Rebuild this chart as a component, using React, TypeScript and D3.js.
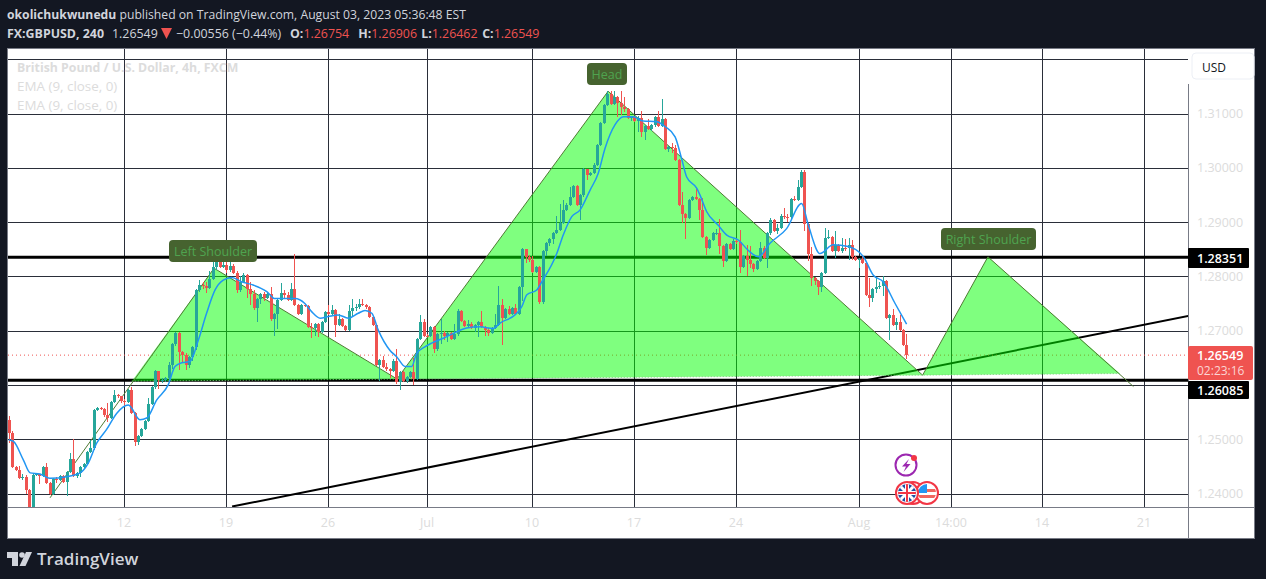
import React from "react";
import * as d3 from "d3";

const firstOpen = 1.2536;
const closes = [
1.2512,1.2449,1.2444,1.2429,1.2431,1.2406,1.2374,1.2434,1.2435,1.2432,
1.2449,1.2419,1.2399,1.2426,1.2425,1.2432,1.2422,1.2440,1.2464,1.2432,
1.2438,1.2448,1.2454,1.2477,1.2483,1.2554,1.2558,1.2556,1.2545,1.2540,
1.2568,1.2581,1.2579,1.2570,1.2568,1.2591,1.2549,1.2494,1.2506,1.2519,
1.2533,1.2565,1.2596,1.2625,1.2609,1.2609,1.2612,1.2637,1.2675,1.2696,
1.2661,1.2655,1.2637,1.2652,1.2669,1.2775,1.2784,1.2782,1.2778,1.2796,
1.2818,1.2827,1.2818,1.2821,1.2811,1.2819,1.2807,1.2774,1.2790,1.2802,
1.2776,1.2768,1.2741,1.2758,1.2767,1.2760,1.2767,1.2722,1.2731,1.2756,
1.2769,1.2766,1.2757,1.2776,1.2747,1.2730,1.2747,1.2746,1.2707,1.2704,
1.2712,1.2698,1.2716,1.2735,1.2731,1.2738,1.2710,1.2722,1.2708,1.2702,
1.2737,1.2741,1.2744,1.2750,1.2747,1.2743,1.2725,1.2710,1.2636,1.2646,
1.2633,1.2630,1.2625,1.2645,1.2605,1.2623,1.2608,1.2615,1.2623,1.2611,
1.2684,1.2716,1.2691,1.2690,1.2706,1.2667,1.2693,1.2696,1.2690,1.2696,
1.2685,1.2693,1.2736,1.2717,1.2708,1.2713,1.2705,1.2711,1.2715,1.2706,
1.2702,1.2696,1.2705,1.2710,1.2747,1.2724,1.2739,1.2730,1.2741,1.2731,
1.2780,1.2851,1.2835,1.2830,1.2808,1.2818,1.2752,1.2847,1.2861,1.2868,
1.2879,1.2886,1.2899,1.2923,1.2932,1.2947,1.2966,1.2931,1.2949,1.2997,
1.2986,1.2991,1.3006,1.3042,1.3083,1.3115,1.3136,1.3118,1.3131,1.3120,
1.3112,1.3108,1.3091,1.3094,1.3087,1.3092,1.3066,1.3077,1.3072,1.3078,
1.3093,1.3077,1.3089,1.3034,1.3038,1.3036,1.3015,1.2931,1.2915,1.2907,
1.2940,1.2946,1.2942,1.2923,1.2872,1.2852,1.2867,1.2879,1.2880,1.2856,
1.2829,1.2860,1.2850,1.2866,1.2864,1.2817,1.2838,1.2831,1.2823,1.2813,
1.2829,1.2852,1.2834,1.2879,1.2903,1.2884,1.2889,1.2912,1.2910,1.2909,
1.2942,1.2941,1.2964,1.2993,1.2897,1.2842,1.2797,1.2791,1.2780,1.2806,
1.2871,1.2872,1.2846,1.2858,1.2847,1.2853,1.2852,1.2858,1.2836,1.2831,
1.2832,1.2825,1.2765,1.2761,1.2777,1.2780,1.2782,1.2791,1.2723,1.2729,
1.2710,1.2715,1.2701,1.2674,1.26549];
const highs = [
1.2543,1.2516,1.2451,1.2450,1.2436,1.2434,1.2408,1.2436,1.2437,1.2436,
1.2450,1.2456,1.2421,1.2428,1.2431,1.2434,1.2434,1.2442,1.2474,1.2500,
1.2440,1.2450,1.2456,1.2479,1.2498,1.2556,1.2560,1.2560,1.2558,1.2566,
1.2570,1.2590,1.2583,1.2580,1.2574,1.2593,1.2597,1.2551,1.2508,1.2521,
1.2535,1.2575,1.2598,1.2627,1.2626,1.2613,1.2615,1.2642,1.2677,1.2698,
1.2697,1.2662,1.2658,1.2654,1.2671,1.2777,1.2793,1.2790,1.2790,1.2810,
1.2828,1.2848,1.2839,1.2842,1.2836,1.2832,1.2823,1.2809,1.2800,1.2806,
1.2804,1.2790,1.2775,1.2760,1.2769,1.2772,1.2772,1.2781,1.2733,1.2758,
1.2787,1.2775,1.2772,1.2787,1.2841,1.2749,1.2749,1.2750,1.2748,1.2714,
1.2714,1.2714,1.2718,1.2737,1.2747,1.2747,1.2740,1.2731,1.2724,1.2710,
1.2747,1.2759,1.2750,1.2759,1.2758,1.2750,1.2745,1.2727,1.2712,1.2648,
1.2654,1.2640,1.2632,1.2647,1.2667,1.2625,1.2625,1.2617,1.2625,1.2650,
1.2686,1.2728,1.2722,1.2693,1.2708,1.2708,1.2695,1.2722,1.2700,1.2698,
1.2698,1.2712,1.2739,1.2738,1.2719,1.2720,1.2715,1.2713,1.2717,1.2736,
1.2708,1.2704,1.2707,1.2730,1.2782,1.2759,1.2741,1.2745,1.2743,1.2750,
1.2782,1.2853,1.2851,1.2840,1.2838,1.2820,1.2819,1.2849,1.2863,1.2870,
1.2881,1.2912,1.2934,1.2940,1.2936,1.2964,1.2969,1.2968,1.2951,1.2999,
1.2998,1.2993,1.3008,1.3044,1.3085,1.3117,1.3142,1.3142,1.3142,1.3133,
1.3142,1.3130,1.3110,1.3096,1.3096,1.3095,1.3105,1.3079,1.3090,1.3080,
1.3095,1.3105,1.3126,1.3091,1.3041,1.3045,1.3042,1.3017,1.2956,1.2917,
1.2942,1.2948,1.2965,1.2945,1.2945,1.2874,1.2869,1.2881,1.2887,1.2906,
1.2858,1.2862,1.2862,1.2868,1.2869,1.2886,1.2840,1.2858,1.2855,1.2825,
1.2831,1.2864,1.2855,1.2881,1.2907,1.2905,1.2897,1.2914,1.2926,1.2915,
1.2944,1.2948,1.2978,1.2996,1.2996,1.2899,1.2854,1.2799,1.2793,1.2808,
1.2889,1.2885,1.2874,1.2883,1.2860,1.2871,1.2869,1.2871,1.2867,1.2838,
1.2834,1.2840,1.2827,1.2797,1.2779,1.2797,1.2790,1.2800,1.2793,1.2731,
1.2740,1.2723,1.2729,1.2703,1.2693];
const lows = [
1.2493,1.2447,1.2442,1.2427,1.2425,1.2400,1.2370,1.2370,1.2432,1.2418,
1.2430,1.2417,1.2397,1.2397,1.2419,1.2423,1.2420,1.2396,1.2438,1.2430,
1.2428,1.2430,1.2446,1.2452,1.2475,1.2481,1.2552,1.2554,1.2541,1.2532,
1.2538,1.2566,1.2575,1.2567,1.2560,1.2566,1.2547,1.2488,1.2490,1.2504,
1.2517,1.2531,1.2563,1.2592,1.2592,1.2604,1.2606,1.2606,1.2630,1.2672,
1.2628,1.2643,1.2628,1.2632,1.2645,1.2665,1.2772,1.2776,1.2770,1.2776,
1.2793,1.2812,1.2815,1.2815,1.2806,1.2808,1.2805,1.2770,1.2772,1.2788,
1.2760,1.2748,1.2738,1.2715,1.2750,1.2755,1.2758,1.2718,1.2690,1.2703,
1.2755,1.2760,1.2755,1.2755,1.2745,1.2728,1.2728,1.2743,1.2705,1.2687,
1.2690,1.2688,1.2696,1.2714,1.2729,1.2729,1.2688,1.2708,1.2706,1.2700,
1.2700,1.2725,1.2737,1.2740,1.2745,1.2740,1.2723,1.2708,1.2634,1.2607,
1.2631,1.2625,1.2612,1.2623,1.2602,1.2591,1.2605,1.2603,1.2613,1.2599,
1.2609,1.2682,1.2689,1.2688,1.2688,1.2659,1.2663,1.2676,1.2682,1.2680,
1.2683,1.2683,1.2691,1.2715,1.2706,1.2704,1.2703,1.2697,1.2688,1.2704,
1.2690,1.2690,1.2694,1.2703,1.2708,1.2673,1.2722,1.2728,1.2728,1.2729,
1.2729,1.2755,1.2825,1.2827,1.2806,1.2806,1.2750,1.2750,1.2838,1.2855,
1.2860,1.2878,1.2884,1.2897,1.2921,1.2930,1.2945,1.2929,1.2903,1.2947,
1.2978,1.2984,1.2989,1.3004,1.3040,1.3081,1.3113,1.3115,1.3116,1.3093,
1.3097,1.3102,1.3089,1.3087,1.3085,1.3066,1.3057,1.3051,1.3070,1.3068,
1.3076,1.3075,1.3075,1.3032,1.3030,1.3028,1.3013,1.2929,1.2898,1.2869,
1.2905,1.2938,1.2940,1.2903,1.2870,1.2840,1.2850,1.2865,1.2877,1.2842,
1.2818,1.2827,1.2848,1.2848,1.2860,1.2807,1.2815,1.2800,1.2815,1.2808,
1.2811,1.2827,1.2832,1.2815,1.2877,1.2882,1.2878,1.2887,1.2905,1.2900,
1.2905,1.2938,1.2939,1.2962,1.2883,1.2828,1.2783,1.2785,1.2765,1.2772,
1.2804,1.2869,1.2844,1.2834,1.2845,1.2843,1.2846,1.2831,1.2830,1.2828,
1.2815,1.2822,1.2763,1.2744,1.2752,1.2769,1.2776,1.2763,1.2721,1.2683,
1.2708,1.2702,1.2699,1.2672,1.2648];

const emaBars = [0,1.4,4.3,6.3,9.2,12.1,17,21,23.4,25.9,28.8,31.8,35.2,38.6,40.6,43.5,46.9,48.9,50.9,53.3,55.8,58.2,60.7,63.1,65.6,68.5,71.9,75.9,78.3,84.2,87.1,89.1,91.6,94,96.9,99.9,102.8,104.8,106.8,108.7,112.1,114.1,116.6,118.5,120,122.4,124.4,127.8,130.8,134.7,138.6,142.5,144.5,148.9,150.9,152.4,155.3,156.8,161.2,163.1,165.6,168,171,173.4,175.4,178.3,180.8,183.7,186.6,190.6,193,196,197.9,199.4,202.4,203.3,205.3,208.7,211.2,214.6,217.5,220.5,223.9,228.8,233.2,235.2,238.6,242.5,246.9,251.4,254.3,257.2,260.7,264.1];
const emaValues = [1.2499,1.2496,1.2462,1.2438,1.2436,1.2428,1.2431,1.2438,1.2456,1.2493,1.2518,1.2548,1.2563,1.2536,1.2539,1.2572,1.2600,1.2634,1.2641,1.2643,1.2683,1.2732,1.2775,1.2793,1.2798,1.2790,1.2784,1.2772,1.2759,1.2759,1.2750,1.2735,1.2723,1.2726,1.2729,1.2723,1.2732,1.2737,1.2732,1.2701,1.2664,1.2652,1.2634,1.2634,1.2658,1.2670,1.2677,1.2686,1.2695,1.2705,1.2707,1.2704,1.2714,1.2729,1.2744,1.2766,1.2775,1.2790,1.2842,1.2876,1.2910,1.2922,1.2959,1.2990,1.3036,1.3079,1.3094,1.3094,1.3086,1.3085,1.3076,1.3057,1.3017,1.2983,1.2962,1.2950,1.2919,1.2894,1.2876,1.2867,1.2848,1.2836,1.2861,1.2888,1.2934,1.2894,1.2842,1.2858,1.2855,1.2836,1.2802,1.2790,1.2750,1.2712];

const timeTickBars = [34,64,94,123,154,184,214,250,277,304,334];
const timeTickLabels = ["12","19","26","Jul","10","17","24","Aug","14:00","14","21"];
const priceTicks = [1.32,1.31,1.30,1.29,1.28,1.27,1.26,1.25,1.24];
const priceLabelTicks = [1.31,1.30,1.29,1.28,1.27,1.25,1.24];
const priceTickLabels = ["1.31000","1.30000","1.29000","1.28000","1.27000","1.25000","1.24000"];
const lastPrice = 1.26549;
const resistance = 1.28351;
const support = 1.26085;
const trendBars = [65.7,346.9];
const trendPrices = [1.2376,1.2727];
// head and shoulders drawing: bar index, price
const patternBars = { start:12.15, ls:60.4, n1:114.2, head:176.3, n2:268.8, rs:288, end:330.8, baseL:36.2, baseR:326.8 };
const patternPrices = { start:1.2392, ls:1.2815, n1:1.2611, head:1.3141, n2:1.2618, rs:1.2836, end:1.2597, baseL:1.2607, baseR:1.2621 };

const UP = "#26a69a", DOWN = "#ef5350", BG = "#131722", GRID = "#2a2e39", TXT = "#d1d4dc", LBL = "#dcdcdc";
const FONT = "'Open Sans', 'Noto Sans', sans-serif";

const x = d3.scaleLinear().domain([0, 346.85]).range([8.7, 1188]);
const y = d3.scaleLinear().domain([1.24, 1.31]).range([493.5, 113.5]);
const sx = (i: number) => Math.round(x(i));
const sy = (p: number) => Math.round(y(p));

const emaLine = d3.line<number>().x((_, i) => x(emaBars[i])).y((v) => y(v)).curve(d3.curveMonotoneX);
const pt = (k: keyof typeof patternBars): [number, number] => [x(patternBars[k]), y(patternPrices[k])];
const poly = (...ks: (keyof typeof patternBars)[]) => ks.map((k) => pt(k).join(",")).join(" ");

function Label({ cx, cy, w, text }: { cx: number; cy: number; w: number; text: string }) {
  return (
    <g>
      <rect x={cx - w / 2} y={cy - 11} width={w} height={22} rx={4} fill="#46632f" />
      <text x={cx} y={cy + 4.5} fontSize={12.5} fill="#4fa34f" textAnchor="middle" fontFamily={FONT}>{text}</text>
    </g>
  );
}

function PriceTag({ p, text, top, h }: { p: number; text: string; top: number; h: number }) {
  return (
    <g>
      <rect x={1188} y={top} width={61} height={h} rx={1} fill="#000" />
      <text x={1197} y={top + h / 2 + 4.5} fontSize={12.5} fontWeight={600} fill="#fff" fontFamily={FONT} data-price={p}>{text}</text>
    </g>
  );
}

export default function App() {
  const candles = closes.map((c, i) => {
    const o = i === 0 ? firstOpen : closes[i - 1];
    return { i, o, c, h: highs[i], l: lows[i] };
  });
  return (
    <svg width={1266} height={579} style={{ position: "absolute", left: 0, top: 0, display: "block" }}>
      <defs>
        <clipPath id="pane"><rect x={8} y={49} width={1180} height={458} /></clipPath>
        <clipPath id="ukClip"><circle cx={907} cy={493} r={9} /></clipPath>
        <clipPath id="usClip"><circle cx={927} cy={493} r={9} /></clipPath>
      </defs>
      <rect width={1266} height={579} fill={BG} />
      <rect x={7.5} y={48.5} width={1247} height={490} fill="#fff" stroke="#787b86" strokeWidth={1} />

      {/* header */}
      <text x={7} y={19} fontSize={12.2} fill={TXT} fontFamily={FONT}>
        <tspan fontWeight={700}>okolichukwunedu</tspan>
        <tspan> published on TradingView.com, August 03, 2023 05:36:48 EST</tspan>
      </text>
      <text x={7} y={38} fontSize={12.4} fill={TXT} fontFamily={FONT}>
        <tspan fontWeight={700}>FX:GBPUSD, 240</tspan>
        <tspan x={112}>1.26549</tspan>
        <tspan x={176}>−0.00556 (−0.44%)</tspan>
        <tspan x={290} fontWeight={700}>O:</tspan><tspan fill={DOWN}>1.26754</tspan>
        <tspan x={355} fontWeight={700}> H:</tspan><tspan fill={DOWN}>1.26906</tspan>
        <tspan x={418} fontWeight={700}> L:</tspan><tspan fill={DOWN}>1.26462</tspan>
        <tspan x={479} fontWeight={700}> C:</tspan><tspan fill={DOWN}>1.26549</tspan>
      </text>
      <polygon points="161,28 172,28 166.5,39" fill={DOWN} />

      {/* grid */}
      <g stroke={GRID} strokeWidth={1} shapeRendering="crispEdges">
        {priceTicks.map((p) => <line key={p} x1={8} x2={1188} y1={sy(p)} y2={sy(p)} />)}
        {timeTickBars.map((b) => <line key={b} x1={sx(b)} x2={sx(b)} y1={49} y2={507} />)}
      </g>

      {/* legend */}
      <g fontFamily={FONT} fill="#dcdcdc">
        <text x={17} y={72} fontWeight={700} fontSize={12.3}>British Pound / U.S. Dollar, 4h, FXCM</text>
        <text x={17} y={91} fontSize={13.4}>EMA (9, close, 0)</text>
        <text x={17} y={110} fontSize={13.4}>EMA (9, close, 0)</text>
      </g>

      <g clipPath="url(#pane)">
        {/* horizontal levels and trend line */}
        <line x1={8} x2={1188} y1={y(resistance)} y2={y(resistance)} stroke="#000" strokeWidth={3} />
        <line x1={8} x2={1188} y1={y(support)} y2={y(support)} stroke="#000" strokeWidth={3} />
        <line x1={x(trendBars[0])} x2={x(trendBars[1])} y1={y(trendPrices[0])} y2={y(trendPrices[1])} stroke="#000" strokeWidth={2} />
        <line x1={8} x2={1188} y1={y(lastPrice)} y2={y(lastPrice)} stroke={DOWN} strokeWidth={1} strokeDasharray="1 3" />

        {/* head and shoulders */}
        <g fill="#00ff00" fillOpacity={0.5} stroke="none">
          <polygon points={poly("baseL", "ls", "n1")} />
          <polygon points={poly("n1", "head", "n2")} />
          <polygon points={poly("n2", "rs", "baseR")} />
        </g>
        <polyline
          points={poly("start", "ls", "n1", "head", "n2", "rs", "end")}
          fill="none" stroke="#4f7a33" strokeWidth={1}
        />
        <line x1={pt("baseL")[0]} y1={pt("baseL")[1]} x2={pt("baseR")[0]} y2={pt("baseR")[1]} stroke="#7fc97f" strokeWidth={1} strokeDasharray="1 2" />

        {/* candles */}
        {candles.map((d) => {
          const cx = sx(d.i);
          const color = d.c >= d.o ? UP : DOWN;
          const top = sy(Math.max(d.o, d.c));
          const bot = sy(Math.min(d.o, d.c));
          return (
            <g key={d.i} fill={color} shapeRendering="crispEdges">
              <rect x={cx} y={sy(d.h)} width={1} height={Math.max(1, sy(d.l) - sy(d.h))} />
              <rect x={cx - 1} y={top} width={3} height={Math.max(1, bot - top)} />
            </g>
          );
        })}

        {/* EMA */}
        <path d={emaLine(emaValues) ?? ""} fill="none" stroke="#2196f3" strokeWidth={1.5} />
      </g>

      {/* pattern labels */}
      <Label cx={213} cy={251} w={88} text="Left Shoulder" />
      <Label cx={607} cy={74} w={40} text="Head" />
      <Label cx={988.5} cy={239} w={95} text="Right Shoulder" />

      {/* event icons */}
      <circle cx={906} cy={465} r={10.5} fill="#fff" stroke="#9c27b0" strokeWidth={2} />
      <polygon points="909,459 902,466.5 906,466.5 903.5,472 910.5,464 906.5,464" fill="#9c27b0" />
      <circle cx={914} cy={458} r={3} fill="#f23645" />
      <circle cx={913} cy={493} r={11} fill="#fff" stroke="#f23645" strokeWidth={2} />
      <circle cx={927} cy={493} r={11} fill="#fff" stroke="#f23645" strokeWidth={2} />
      <g clipPath="url(#usClip)">
        <rect x={918} y={484} width={18} height={18} fill="#fff" />
        <rect x={918} y={489} width={18} height={3} fill="#f0655f" />
        <rect x={918} y={495} width={18} height={3} fill="#f0655f" />
        <rect x={918} y={484} width={9} height={9} fill="#2196f3" />
      </g>
      <circle cx={907} cy={493} r={11} fill="#fff" stroke="#f23645" strokeWidth={2} />
      <g clipPath="url(#ukClip)">
        <rect x={898} y={484} width={18} height={18} fill="#1e4fa3" />
        <line x1={898} y1={484} x2={916} y2={502} stroke="#fff" strokeWidth={3} />
        <line x1={916} y1={484} x2={898} y2={502} stroke="#fff" strokeWidth={3} />
        <rect x={898} y={491} width={18} height={4} fill="#fff" />
        <rect x={905} y={484} width={4} height={18} fill="#fff" />
        <rect x={898} y={492} width={18} height={2} fill="#f23645" />
        <rect x={906} y={484} width={2} height={18} fill="#f23645" />
      </g>

      {/* axes */}
      <line x1={1188.5} x2={1188.5} y1={84} y2={538} stroke="#787b86" />
      <line x1={8} x2={1254} y1={507.5} y2={507.5} stroke="#787b86" />
      {timeTickBars.map((b, i) => (
        <text key={b} x={sx(b)} y={527} fontSize={12.5} textAnchor="middle" fill={LBL} fontFamily={FONT}>{timeTickLabels[i]}</text>
      ))}
      {priceLabelTicks.map((p, i) => (
        <text key={p} x={1197} y={y(p) + 4.5} fontSize={12.5} fill={LBL} fontFamily={FONT}>{priceTickLabels[i]}</text>
      ))}
      <rect x={1192} y={53} width={62} height={26} rx={4} fill="#fff" stroke="#eceff5" />
      <text x={1202} y={72} fontSize={12} fill="#131722" fontFamily={FONT}>USD</text>

      {/* price tags */}
      <PriceTag p={resistance} text="1.28351" top={248} h={20} />
      <rect x={1188} y={346} width={65} height={34} rx={2} fill={DOWN} />
      <text x={1197} y={360} fontSize={12.5} fontWeight={600} fill="#fff" fontFamily={FONT}>1.26549</text>
      <text x={1197} y={375} fontSize={12} fill="#fbd5d4" fontFamily={FONT}>02:23:16</text>
      <PriceTag p={support} text="1.26085" top={381} h={18} />

      {/* logo */}
      <g fill={TXT}>
        <polygon points="7,552 18,552 18,566 12,566 12,558 7,558" />
        <circle cx={22} cy={555} r={2.8} />
        <polygon points="26,552 32,552 25.5,566 19.5,566" />
      </g>
      <text x={37} y={565} fontSize={17} fontWeight={600} fill={TXT} fontFamily={FONT}>TradingView</text>
    </svg>
  );
}
